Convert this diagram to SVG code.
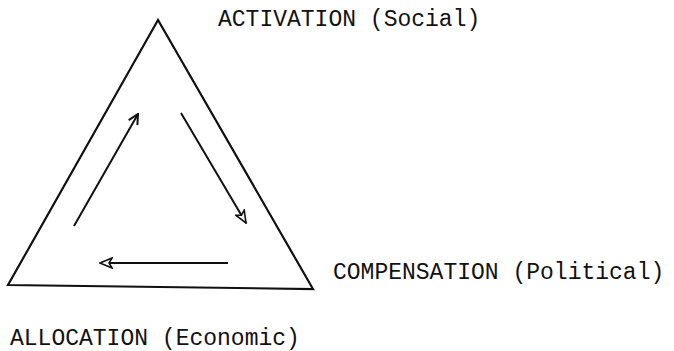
<svg xmlns="http://www.w3.org/2000/svg" width="674" height="351" viewBox="0 0 674 351">
<defs>
<style>
.lbl{font-family:"Liberation Mono","Courier New",monospace;font-size:23px;fill:#111}
.edge{fill:none;stroke:#111;stroke-width:2.2;stroke-linejoin:miter}
.arr{fill:none;stroke:#111;stroke-width:2}
</style>
<marker id="openV" viewBox="0 0 12 12" refX="11" refY="6" markerWidth="12" markerHeight="12" markerUnits="userSpaceOnUse" orient="auto">
<path d="M1,1 L11,6 L1,11" fill="none" stroke="#111" stroke-width="2"/>
</marker>
<marker id="hollow" viewBox="0 0 14 12" refX="13" refY="6" markerWidth="14" markerHeight="12" markerUnits="userSpaceOnUse" orient="auto">
<path d="M1,1 L13,6 L1,11 L4,6 Z" fill="#fff" stroke="#111" stroke-width="1.6"/>
</marker>
</defs>
<rect width="674" height="351" fill="#fff"/>
<g id="triangle">
<path class="edge" d="M158,20 L8,285 L313,289 Z"/>
</g>
<g id="activation">
<text class="lbl" x="218" y="26">ACTIVATION (Social)</text>
</g>
<g id="compensation">
<text class="lbl" x="333" y="279">COMPENSATION (Political)</text>
</g>
<g id="allocation">
<text class="lbl" x="10" y="345">ALLOCATION (Economic)</text>
</g>
<g id="connectors">
<line class="arr" x1="74" y1="226" x2="138" y2="114" marker-end="url(#openV)"/>
<line class="arr" x1="181" y1="113" x2="246" y2="223" stroke-width="1.6" marker-end="url(#hollow)"/>
<line class="arr" x1="228" y1="263" x2="100" y2="263" marker-end="url(#hollow)"/>
</g>
</svg>
